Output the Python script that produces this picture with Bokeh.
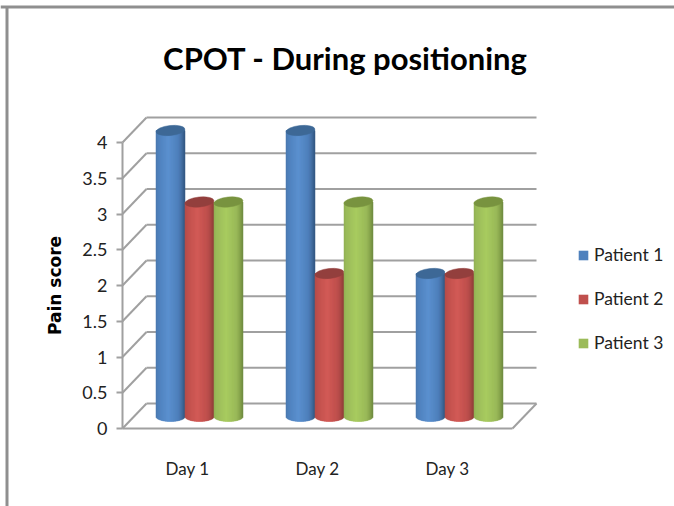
import math
from bokeh.plotting import figure
from bokeh.embed import file_html
from bokeh.resources import INLINE
from bokeh.models import FixedTicker, Legend, LegendItem, Label

# ---- data
days = ["Day 1", "Day 2", "Day 3"]
patient_1 = [4, 4, 2]
patient_2 = [3, 2, 2]
patient_3 = [3, 3, 3]
series_names = ["Patient 1", "Patient 2", "Patient 3"]
y_ticks = [0, 0.5, 1, 1.5, 2, 2.5, 3, 3.5, 4]
y_tick_labels = ["0", "0.5", "1", "1.5", "2", "2.5", "3", "3.5", "4"]
title_text = "CPOT - During positioning"

# ---- styling
FONT = "Lato"
GRID = "#a0a0a0"
W, H = 674, 506
X0, Y0 = 122, 428   # page position of the front-left corner of the chart box
PX_X = 130.0        # pixels per category
PX_Y = 71.5         # pixels per score unit
DEPTH_X, DEPTH_Y = 24 / PX_X, 25 / PX_Y
BAR_W = 29 / PX_X
SHIFT_X, SHIFT_Y = 12 / PX_X, 12 / PX_Y
ELL_H = 10 / PX_Y
palette = [
    dict(dark="#33567f", mid="#4f81bd", light="#5b90cf", top="#3d6896"),
    dict(dark="#8c3b39", mid="#c0504d", light="#d25a56", top="#933f3d"),
    dict(dark="#6f8a3f", mid="#9bbb59", light="#a8cb60", top="#78933f"),
]


def px_x(px):
    return (px - X0) / PX_X


def px_y(px):
    return (Y0 - px) / PX_Y


p = figure(width=W, height=H, output_backend="svg", toolbar_location=None,
           x_range=(px_x(0), px_x(W)), y_range=(px_y(H), px_y(0)),
           min_border=0, outline_line_color=None, background_fill_color="white")
p.grid.visible = False

# axes
ax = p.yaxis[0]
ax.fixed_location = 0
ax.ticker = FixedTicker(ticks=y_ticks)
ax.major_label_overrides = {t: l for t, l in zip(y_ticks, y_tick_labels)}
ax.bounds = (0, 4)
ax.axis_line_color = GRID
ax.axis_line_width = 2
ax.major_tick_line_color = GRID
ax.major_tick_line_width = 2
ax.major_tick_out = 6
ax.major_tick_in = 0
ax.minor_tick_line_color = None
ax.major_label_text_font = FONT
ax.major_label_text_font_size = "18px"
ax.major_label_text_color = "#222222"
ax.major_label_standoff = 9
ax.axis_label = "Pain score"
ax.axis_label_text_font = "DejaVu Sans"
ax.axis_label_text_font_style = "bold"
ax.axis_label_text_font_size = "17px"
ax.axis_label_text_color = "#000000"
ax.axis_label_standoff = 14

bx = p.xaxis[0]
bx.fixed_location = 0
bx.ticker = FixedTicker(ticks=[i + 0.5 for i in range(len(days))])
bx.major_label_overrides = {i + 0.5: d for i, d in enumerate(days)}
bx.bounds = (0, 3)
bx.axis_line_color = GRID
bx.axis_line_width = 2
bx.major_tick_line_color = None
bx.minor_tick_line_color = None
bx.major_label_text_font = FONT
bx.major_label_text_font_size = "17px"
bx.major_label_text_color = "#222222"
bx.major_label_standoff = 23

# 3-D box: back wall grid lines, left wall diagonals, floor edge
p.segment(x0=[DEPTH_X] * len(y_ticks), y0=[t + DEPTH_Y for t in y_ticks],
          x1=[3 + DEPTH_X] * len(y_ticks), y1=[t + DEPTH_Y for t in y_ticks],
          line_color=GRID, line_width=2)
p.segment(x0=[0] * len(y_ticks), y0=y_ticks,
          x1=[DEPTH_X] * len(y_ticks), y1=[t + DEPTH_Y for t in y_ticks],
          line_color=GRID, line_width=2)
p.segment(x0=[3], y0=[0], x1=[3 + DEPTH_X], y1=[DEPTH_Y], line_color=GRID, line_width=2)


def mix(a, b, t):
    ca = [int(a[i:i + 2], 16) for i in (1, 3, 5)]
    cb = [int(b[i:i + 2], 16) for i in (1, 3, 5)]
    return "#%02x%02x%02x" % tuple(round(x + (y - x) * t) for x, y in zip(ca, cb))


def shade(u, c):
    # u in [-1, 1] across the cylinder: bright just left of centre, dark edges
    d = abs(u + 0.15) / 1.15
    if d < 0.55:
        return mix(c["light"], c["mid"], d / 0.55)
    return mix(c["mid"], c["dark"], ((d - 0.55) / 0.45) ** 1.5)


legend_items = []
STRIPS = 29
for s, values in enumerate([patient_1, patient_2, patient_3]):
    c = palette[s]
    cx = [i + 0.5 + (s - 1) * BAR_W + SHIFT_X for i in range(len(days))]
    base = p.quad(left=[x - BAR_W / 2 for x in cx], right=[x + BAR_W / 2 for x in cx],
                  bottom=[SHIFT_Y] * 3, top=[v + SHIFT_Y for v in values],
                  fill_color=c["mid"], line_color=None)
    legend_items.append(LegendItem(label=series_names[s], renderers=[base]))
    for k in range(STRIPS):
        u0 = -1 + 2 * k / STRIPS
        u1 = -1 + 2 * (k + 1) / STRIPS
        um = (u0 + u1) / 2
        col = shade(um, c)
        sag = ELL_H / 2 * math.sqrt(1 - um * um)
        p.quad(left=[x + u0 * BAR_W / 2 for x in cx], right=[x + u1 * BAR_W / 2 for x in cx],
               bottom=[SHIFT_Y - sag] * 3, top=[v + SHIFT_Y for v in values],
               fill_color=col, line_color=col, line_width=0.5)
    p.ellipse(x=cx, y=[v + SHIFT_Y for v in values], width=BAR_W, height=ELL_H,
              angle=0.1, fill_color=c["top"], line_color=c["top"], line_width=0.5)

leg = Legend(items=legend_items, location=(577, 153), orientation="vertical",
             background_fill_alpha=0, border_line_color=None,
             glyph_width=12, glyph_height=12, label_height=20, label_width=68,
             spacing=23, margin=0, padding=4,
             label_text_font=FONT, label_text_font_size="17.5px", label_text_color="#222222",
             label_standoff=5)
p.add_layout(leg, "center")

p.add_layout(Label(x=px_x(345), y=px_y(57), text=title_text, text_font=FONT,
                   text_font_size="31px", text_font_style="bold", text_color="#000000",
                   text_align="center", text_baseline="middle"))

# page frame lines of the source document
p.segment(x0=[px_x(0), px_x(6.5)], y0=[px_y(6.5), px_y(6.5)],
          x1=[px_x(W), px_x(6.5)], y1=[px_y(6.5), px_y(H)],
          line_color="#8f8f8f", line_width=3)

html = file_html(p, INLINE)
open("out.html", "w").write(html)
